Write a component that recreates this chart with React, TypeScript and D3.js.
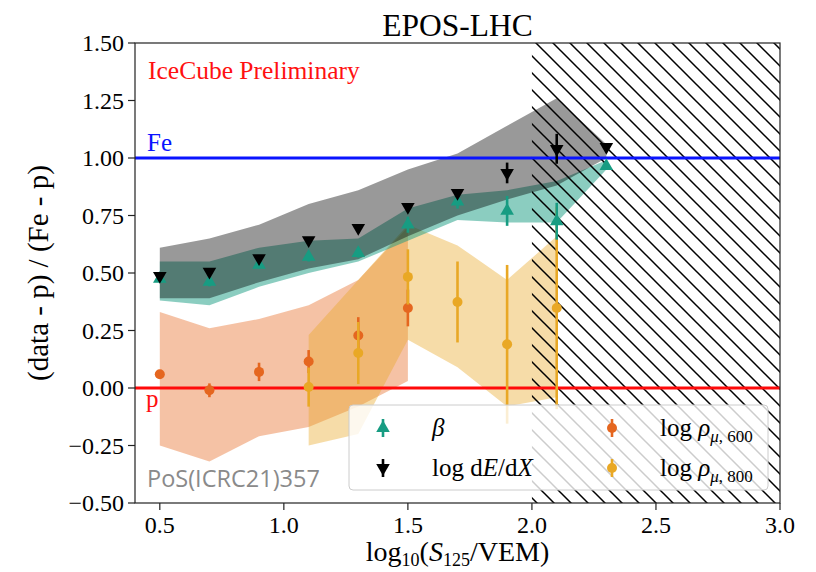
import React from "react";
import * as d3 from "d3";

// bin centres, log10(S125/VEM)
const xBins = [0.5, 0.7, 0.9, 1.1, 1.3, 1.5, 1.7, 1.9, 2.1, 2.3];

// beta
const betaVals = [0.475, 0.462, 0.535, 0.57, 0.587, 0.71, 0.81, 0.77, 0.725, 0.965];
const betaErr = [0.015, 0.02, 0.015, 0.02, 0.02, 0.035, 0.03, 0.065, 0.08, 0.01];
const betaBandLo = [0.38, 0.36, 0.44, 0.5, 0.55, 0.64, 0.73, 0.72, 0.72, 0.95];
const betaBandHi = [0.55, 0.55, 0.61, 0.64, 0.65, 0.78, 0.84, 0.86, 0.9, 0.99];

// log dE/dX
const dedxVals = [0.487, 0.506, 0.565, 0.643, 0.696, 0.787, 0.848, 0.935, 1.04, 1.048];
const dedxErr = [0.01, 0.01, 0.01, 0.01, 0.01, 0.01, 0.015, 0.045, 0.065, 0.01];
const dedxBandLo = [0.39, 0.39, 0.46, 0.52, 0.56, 0.66, 0.75, 0.82, 0.88, 1.0];
const dedxBandHi = [0.61, 0.65, 0.71, 0.8, 0.86, 0.95, 1.02, 1.14, 1.26, 1.06];

// log rho_mu,600
const rho600X = [0.5, 0.7, 0.9, 1.1, 1.3, 1.5];
const rho600Vals = [0.06, -0.01, 0.07, 0.115, 0.228, 0.348];
const rho600Err = [0.015, 0.03, 0.04, 0.05, 0.08, 0.08];
const rho600BandLo = [-0.25, -0.32, -0.21, -0.17, -0.08, 0.03];
const rho600BandHi = [0.33, 0.26, 0.3, 0.36, 0.47, 0.7];

// log rho_mu,800
const rho800X = [1.1, 1.3, 1.5, 1.7, 1.9, 2.1];
const rho800Vals = [0.004, 0.152, 0.483, 0.374, 0.19, 0.348];
const rho800Err = [0.085, 0.135, 0.12, 0.176, 0.345, 0.44];
const rho800BandLo = [-0.25, -0.2, 0.21, 0.09, -0.08, -0.04];
const rho800BandHi = [0.23, 0.47, 0.71, 0.62, 0.47, 0.66];

const xTicks = [0.5, 1.0, 1.5, 2.0, 2.5, 3.0];
const yTicks = [-0.5, -0.25, 0, 0.25, 0.5, 0.75, 1.0, 1.25, 1.5];

const cutStart = 2.0;

const TEAL = "#179c82";
const ORANGE = "#e5661f";
const YELLOW = "#e9a825";
const SERIF = "'Liberation Serif', 'Times New Roman', serif";

const W = 816;
const H = 572;
const x = d3.scaleLinear().domain([0.4, 3.0]).range([135, 780]);
const y = d3.scaleLinear().domain([-0.5, 1.5]).range([503, 43]);

const band = (xs: number[], lo: number[], hi: number[]) =>
  d3
    .area<number>()
    .x((_, i) => x(xs[i]))
    .y0((_, i) => y(lo[i]))
    .y1((_, i) => y(hi[i]))(xs) || "";

const triUp = d3.symbol(d3.symbolTriangle, 80)() || "";

const fmt = (v: number) => {
  const s = d3.format(".2f")(Math.abs(v));
  return v < 0 ? "\u2212" + s : s;
};

function ErrSeries({ xs, vals, errs, color, shape }: any) {
  return (
    <g>
      {xs.map((xv: number, i: number) => (
        <line
          key={"e" + i}
          x1={x(xv)}
          x2={x(xv)}
          y1={y(vals[i] - errs[i])}
          y2={y(vals[i] + errs[i])}
          stroke={color}
          strokeWidth={2.6}
        />
      ))}
      {xs.map((xv: number, i: number) =>
        shape === "circle" ? (
          <circle key={"m" + i} cx={x(xv)} cy={y(vals[i])} r={5} fill={color} />
        ) : (
          <path
            key={"m" + i}
            d={triUp}
            fill={color}
            transform={`translate(${x(xv)},${y(vals[i])})${shape === "down" ? " rotate(180)" : ""}`}
          />
        )
      )}
    </g>
  );
}

function LegendMarker({ cx, cy, color, shape }: any) {
  return (
    <g>
      <line x1={cx} x2={cx} y1={cy - 9} y2={cy + 9} stroke={color} strokeWidth={2.6} />
      {shape === "circle" ? (
        <circle cx={cx} cy={cy} r={5} fill={color} />
      ) : (
        <path d={triUp} fill={color} transform={`translate(${cx},${cy})${shape === "down" ? " rotate(180)" : ""}`} />
      )}
    </g>
  );
}

export default function App() {
  const [x0, x1] = x.range();
  const [y0, y1] = y.range();
  return (
    <div style={{ position: "absolute", left: 0, top: 0 }}>
      <svg width={W} height={H} style={{ display: "block", background: "#fff" }}>
        <defs>
          <clipPath id="plot">
            <rect x={x0} y={y1} width={x1 - x0} height={y0 - y1} />
          </clipPath>
          <pattern id="hatch" patternUnits="userSpaceOnUse" width={17} height={17}>
            <path d="M0,0 L17,17 M-4,13 L4,21 M13,-4 L21,4" stroke="#000" strokeWidth={1.5} />
          </pattern>
        </defs>

        <g clipPath="url(#plot)">
          <path d={band(rho600X, rho600BandLo, rho600BandHi)} fill={ORANGE} fillOpacity={0.4} />
          <path d={band(rho800X, rho800BandLo, rho800BandHi)} fill={YELLOW} fillOpacity={0.4} />
          <path d={band(xBins, betaBandLo, betaBandHi)} fill={TEAL} fillOpacity={0.5} />
          <path d={band(xBins, dedxBandLo, dedxBandHi)} fill="#000" fillOpacity={0.4} />

          <rect x={x(cutStart)} y={y1} width={x1 - x(cutStart)} height={y0 - y1} fill="url(#hatch)" />

          <line x1={x0} x2={x1} y1={y(1)} y2={y(1)} stroke="#0a14ff" strokeWidth={2.8} />
          <line x1={x0} x2={x1} y1={y(0)} y2={y(0)} stroke="#ff0a0a" strokeWidth={2.8} />

          <ErrSeries xs={rho600X} vals={rho600Vals} errs={rho600Err} color={ORANGE} shape="circle" />
          <ErrSeries xs={rho800X} vals={rho800Vals} errs={rho800Err} color={YELLOW} shape="circle" />
          <ErrSeries xs={xBins} vals={betaVals} errs={betaErr} color={TEAL} shape="up" />
          <ErrSeries xs={xBins} vals={dedxVals} errs={dedxErr} color="#000" shape="down" />
        </g>

        <text x={148} y={79} fill="#ff1010" fontFamily={SERIF} fontSize={25.5}>
          IceCube Preliminary
        </text>
        <text x={147} y={151} fill="#0a14ff" fontFamily={SERIF} fontSize={25}>
          Fe
        </text>
        <text x={146} y={407} fill="#ff1010" fontFamily={SERIF} fontSize={25}>
          p
        </text>
        <text x={147} y={487} fill="#8a8a8a" fontFamily="'Open Sans', sans-serif" fontSize={23.5}>
          PoS(ICRC21)357
        </text>

        {/* legend */}
        <g>
          <rect x={349} y={405} width={419} height={85} rx={4} fill="#fff" fillOpacity={0.8} stroke="#cccccc" strokeWidth={1} />
          <LegendMarker cx={383} cy={428} color={TEAL} shape="up" />
          <LegendMarker cx={383} cy={468} color="#000" shape="down" />
          <LegendMarker cx={612} cy={428} color={ORANGE} shape="circle" />
          <LegendMarker cx={612} cy={468} color={YELLOW} shape="circle" />
          <g fontFamily={SERIF} fontSize={25} fill="#000">
            <text x={432} y={436} fontStyle="italic">β</text>
            <text x={432} y={476}>
              log d<tspan fontStyle="italic">E</tspan>/d<tspan fontStyle="italic">X</tspan>
            </text>
            <text x={660} y={436}>
              log <tspan fontStyle="italic">ρ</tspan>
              <tspan fontSize={17} dy={6}><tspan fontStyle="italic">μ</tspan>, 600</tspan>
            </text>
            <text x={660} y={476}>
              log <tspan fontStyle="italic">ρ</tspan>
              <tspan fontSize={17} dy={6}><tspan fontStyle="italic">μ</tspan>, 800</tspan>
            </text>
          </g>
        </g>

        {/* frame */}
        <rect x={x0} y={y1} width={x1 - x0} height={y0 - y1} fill="none" stroke="#222" strokeWidth={1.2} />

        {/* axes ticks */}
        <g fontFamily={SERIF} fontSize={24} fill="#000">
          {xTicks.map((t) => (
            <g key={t}>
              <line x1={x(t)} x2={x(t)} y1={y0} y2={y0 + 7} stroke="#222" strokeWidth={1.2} />
              <text x={x(t)} y={533} textAnchor="middle">{d3.format(".1f")(t)}</text>
            </g>
          ))}
          {yTicks.map((t) => (
            <g key={t}>
              <line x1={x0 - 7} x2={x0} y1={y(t)} y2={y(t)} stroke="#222" strokeWidth={1.2} />
              <text x={124} y={y(t) + 8} textAnchor="end">{fmt(t)}</text>
            </g>
          ))}
        </g>

        <text x={(x0 + x1) / 2} y={561} textAnchor="middle" fontFamily={SERIF} fontSize={28}>
          log<tspan fontSize={18} dy={5}>10</tspan>
          <tspan dy={-5}>(</tspan>
          <tspan fontStyle="italic">S</tspan>
          <tspan fontSize={18} dy={5}>125</tspan>
          <tspan dy={-5}>/VEM)</tspan>
        </text>

        <text
          transform={`translate(48,${(y0 + y1) / 2}) rotate(-90)`}
          textAnchor="middle"
          fontFamily={SERIF}
          fontSize={29}
        >
          (data - p) / (Fe - p)
        </text>

        <text x={(x0 + x1) / 2} y={36} textAnchor="middle" fontFamily={SERIF} fontSize={31.5}>
          EPOS-LHC
        </text>
      </svg>
    </div>
  );
}
